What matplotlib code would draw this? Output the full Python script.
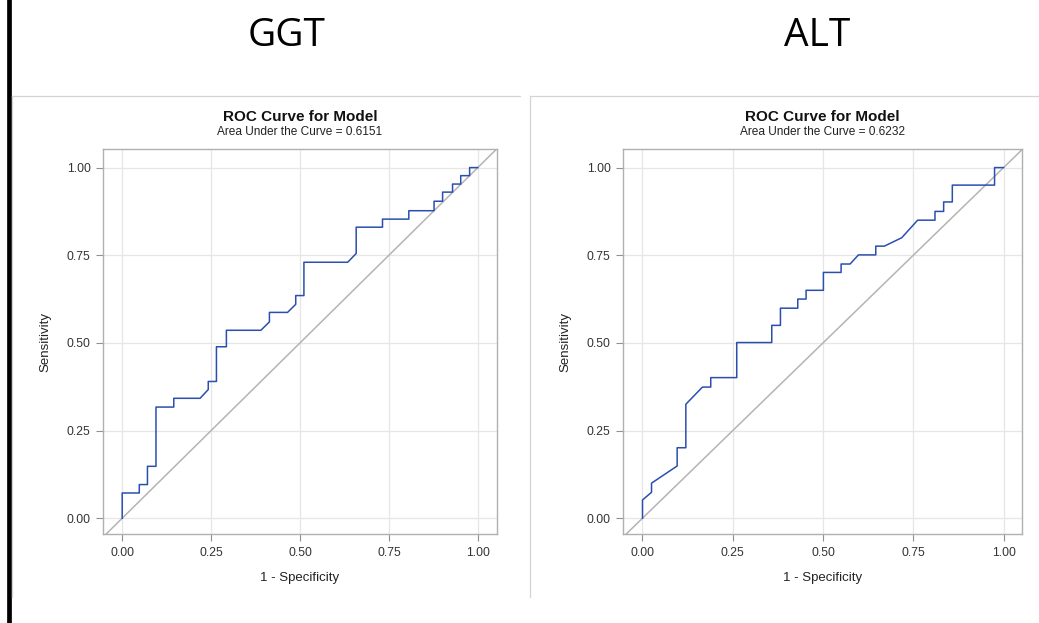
import matplotlib.pyplot as plt
from matplotlib.lines import Line2D

# ROC curve points (1 - specificity, sensitivity)
ggt_fpr = [0.0, 0.0, 0.048, 0.048, 0.071, 0.071, 0.095, 0.095, 0.145, 0.145, 0.219, 0.242,
           0.242, 0.265, 0.265, 0.293, 0.293, 0.390, 0.414, 0.414, 0.465, 0.488, 0.488, 0.511,
           0.511, 0.634, 0.658, 0.658, 0.732, 0.732, 0.806, 0.806, 0.877, 0.877, 0.901, 0.901,
           0.929, 0.929, 0.952, 0.952, 0.977, 0.977, 1.0]
ggt_tpr = [0.0, 0.072, 0.072, 0.096, 0.096, 0.148, 0.148, 0.317, 0.317, 0.342, 0.342, 0.367,
           0.390, 0.390, 0.489, 0.489, 0.536, 0.536, 0.560, 0.587, 0.587, 0.610, 0.635, 0.635,
           0.730, 0.730, 0.755, 0.830, 0.830, 0.853, 0.853, 0.877, 0.877, 0.904, 0.904, 0.930,
           0.930, 0.953, 0.953, 0.977, 0.977, 1.0, 1.0]

alt_fpr = [0.0, 0.0, 0.025, 0.025, 0.096, 0.096, 0.120, 0.120, 0.166, 0.189, 0.189, 0.261,
           0.261, 0.358, 0.358, 0.382, 0.382, 0.430, 0.430, 0.453, 0.453, 0.501, 0.501, 0.550,
           0.550, 0.575, 0.598, 0.646, 0.646, 0.670, 0.718, 0.762, 0.810, 0.810, 0.834, 0.834,
           0.858, 0.858, 0.975, 0.975, 1.0]
alt_tpr = [0.0, 0.052, 0.074, 0.100, 0.149, 0.201, 0.201, 0.325, 0.374, 0.374, 0.401, 0.401,
           0.501, 0.501, 0.550, 0.550, 0.599, 0.599, 0.625, 0.625, 0.650, 0.650, 0.701, 0.701,
           0.725, 0.725, 0.751, 0.751, 0.776, 0.776, 0.800, 0.850, 0.850, 0.875, 0.875, 0.902,
           0.902, 0.950, 0.950, 1.0, 1.0]

panel_titles = ['GGT', 'ALT']
auc_values = ['0.6151', '0.6232']
ticks = [0.0, 0.25, 0.5, 0.75, 1.0]
tick_labels = ['0.00', '0.25', '0.50', '0.75', '1.00']

W, H = 1039, 623
fig = plt.figure(figsize=(W / 100, H / 100), dpi=100)
fig.patch.set_facecolor('white')

def fx(px):
    return px / W

def fy(py):
    return 1 - py / H

# slide decorations: black bar and panel borders
fig.add_artist(Line2D([fx(9), fx(9)], [0, 1], color='black', lw=3.4))
for x0, x1 in [(12, 520), (530, 1039)]:
    fig.add_artist(Line2D([fx(x0), fx(x1)], [fy(96), fy(96)], color='#d4d4d4', lw=0.9))
for x in [12, 530]:
    fig.add_artist(Line2D([fx(x), fx(x)], [fy(96), fy(597)], color='#d4d4d4', lw=0.9))

axes_px = [(103, 497, -0.054, 1.054, 287), (623, 1022, -0.054, 1.051, 817)]
curves = [(ggt_fpr, ggt_tpr), (alt_fpr, alt_tpr)]

for i, (left, right, xl, xr, tcx) in enumerate(axes_px):
    ax = fig.add_axes([fx(left), fy(534), fx(right - left), (534 - 149) / H])
    ax.set_xlim(xl, xr)
    ax.set_ylim(-0.045, 1.053)
    ax.grid(True, color='#e6e6e6', lw=0.9)
    ax.set_axisbelow(True)
    ax.plot([-0.1, 1.1], [-0.1, 1.1], color='#b4b4b4', lw=1.1)
    ax.plot(curves[i][0], curves[i][1], color='#2b4fae', lw=1.1)
    ax.set_xticks(ticks)
    ax.set_xticklabels(tick_labels)
    ax.set_yticks(ticks)
    ax.set_yticklabels(tick_labels)
    for s in ax.spines.values():
        s.set_color('#b0b0b0')
        s.set_linewidth(1.0)
    ax.tick_params(direction='out', length=5, width=0.8, color='#909090',
                   labelsize=8.8, labelcolor='#333333', pad=4)
    for lab in ax.get_xticklabels() + ax.get_yticklabels():
        lab.set_family('Liberation Sans')
    ax.set_xlabel('1 - Specificity', family='Liberation Sans', fontsize=9.5,
                  color='#222222', labelpad=10)
    ax.set_ylabel('Sensitivity', family='Liberation Sans', fontsize=9.5,
                  color='#222222', labelpad=11)
    cx = fx((left + right) / 2)
    fig.text(cx, fy(117), 'ROC Curve for Model', ha='center', va='center',
             family='Liberation Sans', fontweight='bold', fontsize=11, color='#111111')
    fig.text(cx, fy(132), 'Area Under the Curve = ' + auc_values[i], ha='center',
             va='center', family='Liberation Sans', fontsize=8.6, color='#222222')
    fig.text(fx(tcx), fy(36), panel_titles[i], ha='center', va='center',
             family='Open Sans', fontsize=28, color='black')

fig.savefig('out.png', dpi=100, facecolor='white')
